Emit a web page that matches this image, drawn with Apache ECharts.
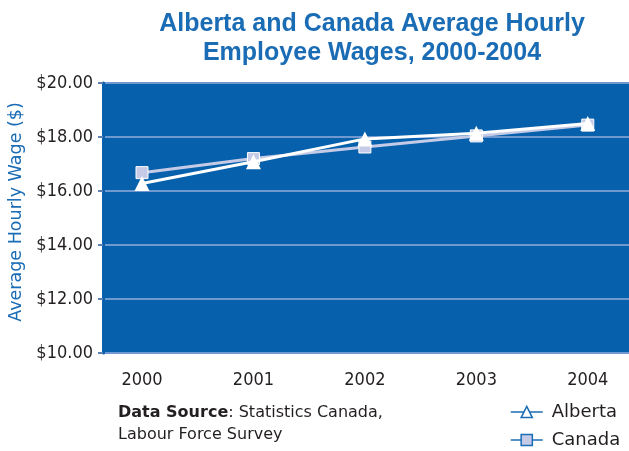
<!DOCTYPE html>
<html>
  <head>
    <meta charset="utf-8" />
    <title>Alberta and Canada Average Hourly Employee Wages</title>
    <script src="https://cdn.jsdelivr.net/npm/echarts@6/dist/echarts.min.js"></script>
  </head>
  <body style="margin:0">
    <div id="main" style="width: 629px;height:451px; background-color: white"></div>
    <script type="text/javascript">
      var myChart = echarts.init(document.getElementById('main'));

      // years on the x axis
      var years = [2000, 2001, 2002, 2003, 2004];
      // average hourly wage, Alberta ($)
      var alberta = [16.28, 17.08, 17.93, 18.14, 18.50];
      // average hourly wage, Canada ($)
      var canada = [16.68, 17.20, 17.63, 18.04, 18.44];

      var blue = '#0660ab';
      var textBlue = '#1a6cb5';
      var labelFont = '"DejaVu Sans Condensed", "DejaVu Sans", sans-serif';

      function pairs(vals) {
        return years.map(function (y, i) { return [y, vals[i]]; });
      }

      var option = {
        title: {
          text: 'Alberta and Canada Average Hourly\nEmployee Wages, 2000-2004',
          left: 367,
          textAlign: 'center',
          top: 5,
          textStyle: {
            fontFamily: 'Liberation Sans',
            fontWeight: 'bold',
            fontSize: 25,
            lineHeight: 29,
            color: textBlue
          }
        },
        grid: {
          left: 103,
          right: 0,
          top: 83,
          bottom: 98,
          outerBoundsMode: 'none',
          show: true,
          backgroundColor: blue,
          borderWidth: 0
        },
        xAxis: {
          type: 'value',
          min: 1999.65,
          max: 2004.37,
          splitLine: { show: false },
          axisLine: { show: false },
          axisTick: { show: false },
          axisLabel: {
            customValues: years,
            margin: 18,
            color: '#231f20',
            fontFamily: labelFont,
            fontSize: 18,
            formatter: function (v) { return '' + v; }
          }
        },
        yAxis: {
          type: 'value',
          min: 10,
          max: 20,
          interval: 2,
          name: 'Average Hourly Wage ($)',
          nameLocation: 'middle',
          nameGap: 71,
          nameTextStyle: {
            color: textBlue,
            fontFamily: 'DejaVu Sans',
            fontSize: 17.5,
            padding: [0, 0, 0, 12]
          },
          axisLine: { show: true, lineStyle: { color: blue, width: 3 } },
          axisTick: { show: true, length: 5, lineStyle: { color: '#5a7fb0', width: 2 } },
          axisLabel: {
            margin: 10,
            color: '#231f20',
            fontFamily: labelFont,
            fontSize: 18,
            formatter: function (v) { return '$' + v.toFixed(2); }
          },
          splitLine: { show: true, lineStyle: { color: '#7099cf', width: 2 } }
        },
        legend: {
          orient: 'vertical',
          left: 510,
          top: 403,
          height: 70,
          padding: 0,
          itemWidth: 32,
          itemHeight: 14,
          itemGap: 10,
          textStyle: {
            color: '#231f20',
            fontFamily: 'DejaVu Sans',
            fontSize: 18,
            padding: [0, 0, 0, 4]
          },
          data: [
            {
              name: 'Alberta',
              itemStyle: { color: 'white', borderColor: textBlue, borderWidth: 1.5 },
              lineStyle: { color: textBlue, width: 1.5 }
            },
            {
              name: 'Canada',
              itemStyle: { color: '#c5cbe6', borderColor: textBlue, borderWidth: 1.5 },
              lineStyle: { color: textBlue, width: 1.5 }
            }
          ]
        },
        graphic: [
          {
            type: 'text',
            left: 118,
            top: 402,
            style: {
              text: '{b|Data Source}: Statistics Canada,\nLabour Force Survey',
              fill: '#231f20',
              fontFamily: 'DejaVu Sans',
              fontSize: 16,
              lineHeight: 22,
              rich: {
                b: { fontWeight: 'bold', fontFamily: 'DejaVu Sans', fontSize: 16 }
              }
            }
          }
        ],
        series: [
          {
            name: 'Canada',
            type: 'line',
            data: pairs(canada),
            symbol: 'rect',
            symbolSize: 12,
            itemStyle: { color: '#c5cbe6', borderColor: '#ffffff', borderWidth: 1 },
            lineStyle: { color: '#c5cbe6', width: 3 },
            z: 2
          },
          {
            name: 'Alberta',
            type: 'line',
            data: pairs(alberta),
            symbol: 'triangle',
            symbolSize: 15,
            itemStyle: { color: '#ffffff' },
            lineStyle: { color: '#ffffff', width: 3 },
            z: 3
          }
        ]
      };

      myChart.setOption(option);
    </script>
  </body>
</html>
